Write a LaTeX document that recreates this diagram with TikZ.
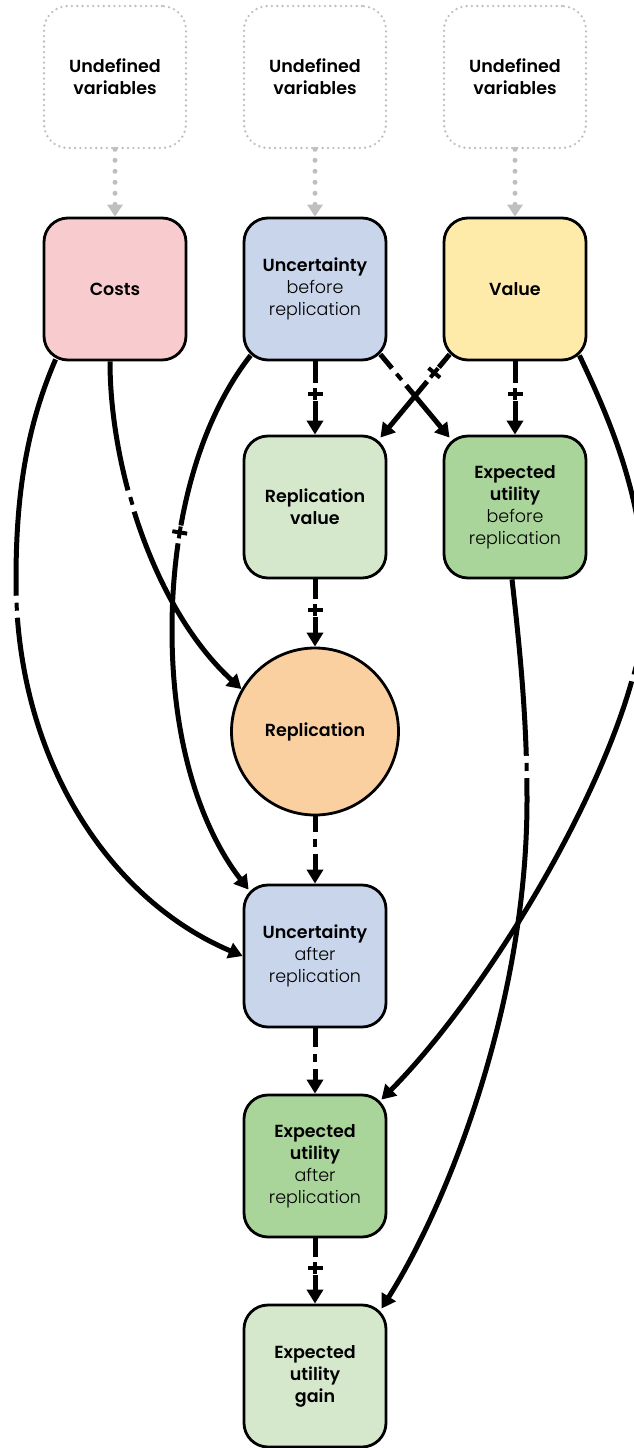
\documentclass[tikz,border=0pt]{standalone}
\usepackage{fontspec}
\setmainfont{Poppins}[UprightFont={* Light},BoldFont={* SemiBold}]
\usetikzlibrary{arrows.meta,calc}
\definecolor{costc}{HTML}{F8CCCE}
\definecolor{uncc}{HTML}{C9D5EB}
\definecolor{valc}{HTML}{FEEBAA}
\definecolor{lgreen}{HTML}{D5E8CC}
\definecolor{dgreen}{HTML}{A9D49A}
\definecolor{orangec}{HTML}{FBD0A1}
\definecolor{grayc}{HTML}{BFBFBF}
\newcommand{\minusbar}{\rule[-2pt]{8pt}{4pt}}
\newcommand{\plusbar}{\rlap{\rule[-2pt]{12pt}{4pt}}\hspace{4pt}\rule[-7.5pt]{4pt}{15pt}\hspace{4pt}}
\begin{document}
\begin{tikzpicture}[x=1pt,y=-1pt,
  txt/.style={align=center,font=\fontsize{17.5}{22}\selectfont},
  box/.style={txt,draw=black,line width=2.8pt,rounded corners=24pt,minimum width=142pt,minimum height=142pt,inner sep=0pt,text width=138pt},
  undef/.style={txt,draw=grayc,line width=2.6pt,dash pattern=on 0pt off 5.3pt,line cap=round,rounded corners=24pt,minimum width=142pt,minimum height=142pt,inner sep=0pt,text width=138pt},
  edge/.style={line width=5pt,-{Triangle[length=14pt,width=16pt]}},
  gedge/.style={draw=grayc,line width=5pt,dash pattern=on 0pt off 11pt,line cap=round,-{Triangle[length=12pt,width=15pt]}},
  plus/.style={sloped,fill=white,inner xsep=5pt,inner ysep=0pt,minimum height=18pt},
  minus/.style={sloped,fill=white,inner xsep=7pt,inner ysep=0pt,minimum height=12pt}
]
\useasboundingbox (0,0) rectangle (633,1448);
% undefined variables
\node[undef] (u1) at (115,77) {\textbf{Undefined}\\\textbf{variables}};
\node[undef] (u2) at (315,77) {\textbf{Undefined}\\\textbf{variables}};
\node[undef] (u3) at (515,77) {\textbf{Undefined}\\\textbf{variables}};
% first row
\node[box,fill=costc] (costs) at (115,289) {\textbf{Costs}};
\node[box,fill=uncc] (unc1) at (315,289) {\textbf{Uncertainty}\\before\\replication};
\node[box,fill=valc] (value) at (515,289) {\textbf{Value}};
% second row
\node[box,fill=lgreen] (repval) at (315,507) {\textbf{Replication}\\\textbf{value}};
\node[box,fill=dgreen] (eub) at (515,507) {\textbf{Expected}\\\textbf{utility}\\before\\replication};
% replication
\node[txt,circle,draw=black,line width=2.8pt,fill=orangec,minimum size=167pt,inner sep=0pt] (rep) at (315,731.5) {\textbf{Replication}};
\node[box,fill=uncc] (unc2) at (315,956) {\textbf{Uncertainty}\\after\\replication};
\node[box,fill=dgreen] (eua) at (315,1166) {\textbf{Expected}\\\textbf{utility}\\after\\replication};
\node[box,fill=lgreen] (gain) at (315,1376) {\textbf{Expected}\\\textbf{utility}\\\textbf{gain}};
% gray arrows
\draw[gedge] (u1) -- (costs);
\draw[gedge] (u2) -- (unc1);
\draw[gedge] (u3) -- (value);
% straight edges
\draw[edge] (unc1) -- node[plus,pos=.42]{\plusbar} (repval);
\draw[edge] (value) -- node[plus,pos=.42]{\plusbar} (eub);
\draw[edge] ([shift={(-7,-7)}]unc1.south east) -- node[minus,pos=.27]{\minusbar} ([shift={(7,3)}]eub.north west);
\draw[edge] ([shift={(7,-7)}]value.south west) -- node[plus,pos=.24]{\plusbar} ([shift={(-7,3)}]repval.north east);
\draw[edge] (repval) -- node[plus,pos=.42]{\plusbar} (rep);
\draw[edge] (rep) -- node[minus,pos=.4]{\minusbar} (unc2);
\draw[edge] (unc2) -- node[minus,pos=.45]{\minusbar} (eua);
\draw[edge] (eua) -- node[plus,pos=.42]{\plusbar} (gain);
% curved edges
\draw[edge] ([shift={(13,-2)}]costs.south west) .. controls (25,430) and (16,500) .. (16,580)
  .. controls (16,760) and (110,900) .. (unc2.west) node[minus,pos=.05]{\minusbar};
\draw[edge] ([shift={(-5,0)}]costs.south) .. controls (110,470) and (155,610) .. (rep.150) node[minus,pos=.4]{\minusbar};
\draw[edge] ([shift={(8,-6)}]unc1.south west) .. controls (200,420) and (172,520) .. (172,630) node[plus,pos=.7]{\plusbar}
  .. controls (172,760) and (210,840) .. ([shift={(6,6)}]unc2.north west);
\draw[edge] ([shift={(-8,-6)}]value.south east) .. controls (610,420) and (645,500) .. (645,600)
  .. controls (645,730) and (500,980) .. ([shift={(-6,6)}]eua.north east) node[minus,pos=.16]{\minusbar};
\draw[edge] ([shift={(-3,0)}]eub.south) .. controls (520,650) and (527,720) .. (527,800) node[minus,pos=.86]{\minusbar}
  .. controls (527,1000) and (450,1200) .. ([shift={(-6,5)}]gain.north east);
\end{tikzpicture}
\end{document}
